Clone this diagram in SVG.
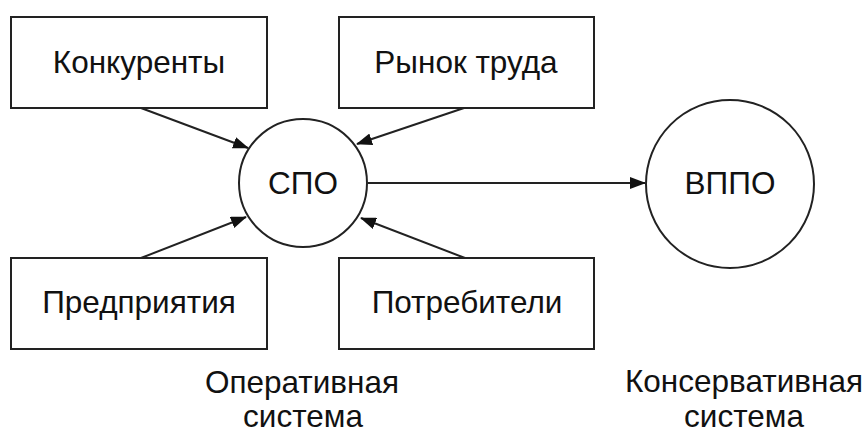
<svg xmlns="http://www.w3.org/2000/svg" width="867" height="432" viewBox="0 0 867 432">
<style>
.box{fill:#fff;stroke:#222;stroke-width:2}
.circ{fill:#fff;stroke:#222;stroke-width:2}
.lbl{font-family:"Liberation Sans",Arial,sans-serif;font-size:31.5px;fill:#111;text-anchor:middle}
.edge{stroke:#222;stroke-width:2;fill:none;marker-end:url(#arr)}
</style>
<defs>
<marker id="arr" markerUnits="userSpaceOnUse" markerWidth="16" markerHeight="12" refX="15" refY="6" orient="auto">
<path d="M0,0 L16,6 L0,12 Z" fill="#111"/>
</marker>
</defs>
<rect width="867" height="432" fill="#fff"/>
<g id="connectors">
<line class="edge" x1="141" y1="108" x2="248" y2="148"/>
<line class="edge" x1="464" y1="108" x2="357" y2="144"/>
<line class="edge" x1="141" y1="258" x2="246" y2="217"/>
<line class="edge" x1="465" y1="258" x2="361" y2="218"/>
<line class="edge" x1="368" y1="183" x2="645" y2="183"/>
</g>
<g id="konkurenty"><rect class="box" x="11" y="17" width="256" height="91"/><text class="lbl" x="139" y="73">Конкуренты</text></g>
<g id="rynok"><rect class="box" x="339" y="17" width="255" height="91"/><text class="lbl" x="466" y="73">Рынок труда</text></g>
<g id="predpriyatiya"><rect class="box" x="11" y="258" width="256" height="91"/><text class="lbl" x="139" y="313">Предприятия</text></g>
<g id="potrebiteli"><rect class="box" x="339" y="258" width="255" height="91"/><text class="lbl" x="467" y="313">Потребители</text></g>
<g id="spo"><circle class="circ" cx="303" cy="183" r="64"/><text class="lbl" x="303" y="194">СПО</text></g>
<g id="vppo"><circle class="circ" cx="730" cy="184" r="84"/><text class="lbl" x="730" y="194">ВППО</text></g>
<g id="oper"><text class="lbl" x="302" y="393">Оперативная</text><text class="lbl" x="303" y="427">система</text></g>
<g id="kons"><text class="lbl" x="744" y="392">Консервативная</text><text class="lbl" x="744" y="427">система</text></g>
</svg>
